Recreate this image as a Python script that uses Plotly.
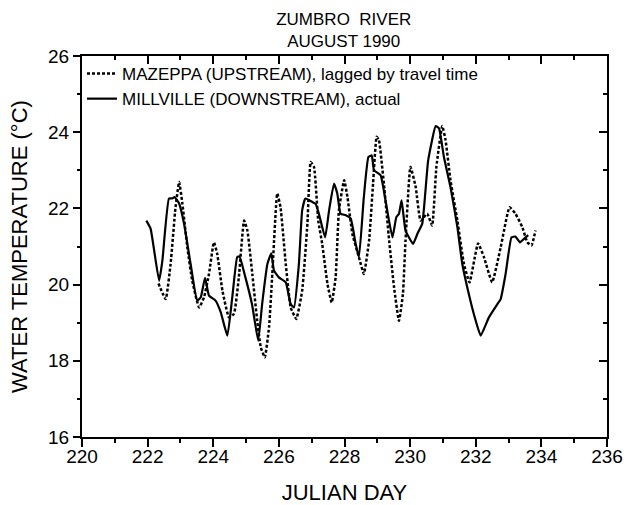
import plotly.graph_objects as go

# Millville (downstream), actual
mill_day = [221.96, 222.09, 222.35, 222.45, 222.65, 222.75, 222.82, 222.96, 223.11, 223.31,
            223.51, 223.62, 223.75, 223.87, 224.07, 224.23, 224.43, 224.58, 224.73, 224.80,
            224.98, 225.18, 225.37, 225.49, 225.65, 225.77, 225.85, 226.00, 226.21, 226.36,
            226.46, 226.61, 226.71, 226.81, 227.02, 227.12, 227.22, 227.41, 227.53, 227.68,
            227.78, 227.88, 228.04, 228.19, 228.34, 228.44, 228.59, 228.73, 228.83, 228.90,
            229.10, 229.25, 229.46, 229.58, 229.66, 229.74, 229.86, 230.09, 230.22, 230.37,
            230.55, 230.78, 230.88, 231.03, 231.23, 231.44, 231.59, 231.79, 232.00, 232.15,
            232.40, 232.66, 232.76, 232.91, 233.09, 233.21, 233.35, 233.47, 233.60]
mill_temp = [21.68, 21.47, 20.10, 20.63, 22.26, 22.26, 22.30, 22.13, 21.60, 20.54,
             19.58, 19.67, 20.18, 19.71, 19.58, 19.27, 18.66, 19.67, 20.72, 20.74,
             20.19, 19.49, 18.53, 19.49, 20.54, 20.82, 20.37, 20.19, 20.06, 19.49,
             19.40, 20.54, 21.95, 22.26, 22.17, 22.12, 21.86, 21.24, 21.95, 22.65,
             22.39, 21.86, 21.82, 21.73, 21.07, 20.72, 22.30, 23.35, 23.39, 23.00,
             22.87, 22.21, 21.24, 21.77, 21.86, 22.21, 21.42, 21.07, 21.33, 21.60,
             23.26, 24.16, 24.10, 23.35, 22.56, 21.51, 20.54, 19.75, 19.05, 18.66,
             19.14, 19.49, 19.62, 20.28, 21.24, 21.26, 21.11, 21.20, 21.30]

# Mazeppa (upstream), lagged by travel time
maz_day = [222.33, 222.55, 222.70, 222.85, 222.96, 223.06, 223.21, 223.36, 223.57, 223.72,
           223.87, 224.02, 224.12, 224.28, 224.48, 224.63, 224.78, 224.94, 225.04, 225.19,
           225.34, 225.45, 225.57, 225.70, 225.80, 225.95, 226.05, 226.21, 226.36, 226.53,
           226.71, 226.87, 226.97, 227.07, 227.20, 227.32, 227.48, 227.61, 227.73, 227.83,
           227.99, 228.09, 228.24, 228.44, 228.59, 228.75, 228.87, 228.98, 229.05, 229.20,
           229.36, 229.51, 229.66, 229.78, 229.86, 230.01, 230.17, 230.32, 230.52, 230.67,
           230.80, 230.98, 231.08, 231.23, 231.44, 231.64, 231.81, 232.07, 232.25, 232.50,
           232.76, 233.03, 233.21, 233.42, 233.57, 233.70, 233.82]
maz_temp = [20.03, 19.62, 20.54, 22.03, 22.69, 22.12, 20.98, 20.10, 19.40, 19.67,
            20.28, 21.11, 20.81, 19.84, 19.14, 19.23, 20.19, 21.68, 21.42, 20.28,
            19.05, 18.35, 18.09, 18.88, 20.28, 22.39, 22.03, 20.54, 19.40, 19.10,
            19.84, 21.60, 23.22, 23.09, 21.68, 21.07, 20.02, 19.53, 20.19, 21.95,
            22.74, 22.30, 21.33, 20.72, 20.28, 21.16, 22.65, 23.88, 23.79, 22.65,
            21.16, 19.93, 19.05, 19.75, 21.16, 23.09, 22.56, 21.68, 21.86, 21.55,
            23.09, 24.16, 23.79, 22.74, 21.68, 20.54, 20.06, 21.08, 20.72, 20.06,
            20.98, 22.03, 21.86, 21.51, 21.11, 21.03, 21.42]

x_range = [220, 236]
y_range = [16, 26]
FONT = "Liberation Sans, Arial, sans-serif"

fig = go.Figure()
fig.add_trace(go.Scatter(
    x=maz_day, y=maz_temp, mode="lines", name="MAZEPPA (UPSTREAM), lagged by travel time",
    line=dict(color="black", width=2.5, dash="3px,2px", shape="spline", smoothing=0.4)))
fig.add_trace(go.Scatter(
    x=mill_day, y=mill_temp, mode="lines", name="MILLVILLE (DOWNSTREAM), actual",
    line=dict(color="black", width=2.2, shape="spline", smoothing=0.4)))
# empty trace to host the mirrored (inward-tick) top/right axes
fig.add_trace(go.Scatter(x=[], y=[], xaxis="x2", yaxis="y2", showlegend=False, hoverinfo="skip"))

fig.update_layout(
    width=629, height=505,
    margin=dict(l=82, r=22, t=56, b=68, autoexpand=False),
    paper_bgcolor="white", plot_bgcolor="white",
    font=dict(family=FONT, color="black"),
    title=dict(text="ZUMBRO  RIVER<br>AUGUST 1990", x=0.5465, xanchor="center",
               xref="container", yref="container", y=1 - 25 / 505, yanchor="middle",
               font=dict(size=17)),
    showlegend=True,
    legend=dict(x=0.0, y=1.0, xanchor="left", yanchor="top", bgcolor="rgba(0,0,0,0)",
                font=dict(size=17), itemwidth=30, tracegroupgap=0),
    xaxis=dict(range=x_range, dtick=2, tick0=220, ticks="outside", ticklen=8, tickwidth=1.5,
               tickcolor="black", showline=True, linecolor="black", linewidth=2,
               showgrid=False, zeroline=False, tickfont=dict(size=19), automargin=False,
               ticklabelstandoff=-7,
               minor=dict(dtick=1, ticks="outside", ticklen=4, tickwidth=1.5, tickcolor="black"),
               title=dict(text="JULIAN DAY", font=dict(size=22), standoff=20)),
    yaxis=dict(range=y_range, dtick=2, tick0=16, ticks="outside", ticklen=7, tickwidth=1.5,
               tickcolor="black", showline=True, linecolor="black", linewidth=2,
               showgrid=False, zeroline=False, tickfont=dict(size=19), automargin=False,
               minor=dict(dtick=1, ticks="outside", ticklen=3, tickwidth=1.5, tickcolor="black"),
               title=dict(text="WATER TEMPERATURE (°C)", font=dict(size=22), standoff=14)),
    xaxis2=dict(range=x_range, overlaying="x", side="top", anchor="y2", dtick=2, tick0=220,
                ticks="inside", ticklen=8, tickwidth=1.5, tickcolor="black", automargin=False,
                showline=True, linecolor="black", linewidth=1.5, showticklabels=False,
                showgrid=False, zeroline=False,
                minor=dict(dtick=1, ticks="inside", ticklen=4, tickwidth=1.5, tickcolor="black")),
    yaxis2=dict(range=y_range, overlaying="y", side="right", anchor="x2", dtick=2, tick0=16,
                ticks="inside", ticklen=8, tickwidth=1.5, tickcolor="black", automargin=False,
                showline=True, linecolor="black", linewidth=2, showticklabels=False,
                showgrid=False, zeroline=False,
                minor=dict(dtick=1, ticks="inside", ticklen=4, tickwidth=1.5, tickcolor="black")),
)

fig.write_html("out.html")
